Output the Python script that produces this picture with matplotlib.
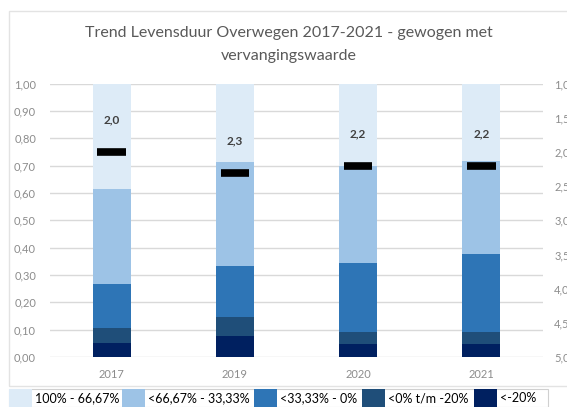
import matplotlib
matplotlib.use("Agg")
import matplotlib.pyplot as plt
from matplotlib.patches import Rectangle
import numpy as np

plt.rcParams['font.family'] = ['Lato', 'DejaVu Sans']

years = ["2017", "2019", "2020", "2021"]
series_labels = ["100% - 66,67%", "<66,67% - 33,33%", "<33,33% - 0%", "<0% t/m -20%", "<-20%"]
# bottom-up order values
navy = [0.050, 0.078, 0.048, 0.048]      # <-20%
dark = [0.055, 0.069, 0.043, 0.043]      # <0% t/m -20%
blue = [0.161, 0.186, 0.254, 0.285]      # <33,33% - 0%
mid = [0.350, 0.379, 0.354, 0.341]       # <66,67% - 33,33%
light = [0.384, 0.288, 0.301, 0.283]     # 100% - 66,67%
avg_life = [2.0, 2.3, 2.2, 2.2]
left_ticks = [0.0, 0.1, 0.2, 0.3, 0.4, 0.5, 0.6, 0.7, 0.8, 0.9, 1.0]
right_ticks = [1.0, 1.5, 2.0, 2.5, 3.0, 3.5, 4.0, 4.5, 5.0]

colors = {"light": "#DDEBF7", "mid": "#9DC3E6", "blue": "#2E75B6",
          "dark": "#1F4E79", "navy": "#002060"}

W, H = 567, 407
fig = plt.figure(figsize=(W / 100, H / 100), dpi=100)
fig.patch.set_facecolor("white")

# chart border
fig.patches.append(Rectangle((9 / W, 1 - 386 / H), 1.2, (386 - 11) / H, transform=fig.transFigure,
                             fill=False, edgecolor="#e3e3e3", lw=1.0))

ax = fig.add_axes([50 / W, 50 / H, (543 - 50) / W, (357 - 83.7) / H])
x = np.arange(len(years))
bw = 0.31
bottom = np.zeros(len(years))
stack = [("navy", navy), ("dark", dark), ("blue", blue), ("mid", mid), ("light", light)]
for key, vals in stack:
    ax.bar(x, vals, bw, bottom=bottom, color=colors[key], zorder=2)
    bottom += np.array(vals)

ax.set_xlim(-0.5, len(years) - 0.5)
ax.set_ylim(0, 1.0)
ax.set_yticks(left_ticks)
ax.set_yticklabels([f"{t:.2f}".replace(".", ",") for t in left_ticks])
ax.set_xticks(x)
ax.set_xticklabels(years)
ax.tick_params(axis="both", length=0, colors="#8c8c8c", labelsize=8)
ax.tick_params(axis="y", pad=10)
ax.tick_params(axis="x", pad=9)
ax.grid(axis="y", color="#d9d9d9", lw=1.0, zorder=0)
for s in ax.spines.values():
    s.set_visible(False)

ax2 = ax.twinx()
ax2.set_ylim(5.0, 1.0)
ax2.set_yticks(right_ticks)
ax2.set_yticklabels([f"{t:.1f}".replace(".", ",") for t in right_ticks])
ax2.tick_params(axis="y", length=0, colors="#8c8c8c", labelsize=8, pad=8)
for s in ax2.spines.values():
    s.set_visible(False)
ax2.hlines(avg_life, x - 0.115, x + 0.115, colors="black", lw=5.5, zorder=5)
for xi, v in zip(x, avg_life):
    ax2.annotate(f"{v:.1f}".replace(".", ","), (xi, v), xytext=(0, 19), textcoords="offset points",
                 ha="center", va="bottom", fontsize=8.5, fontweight="bold", color="#404040")

fig.text(289 / W, 1 - 33 / H, "Trend Levensduur Overwegen 2017-2021 - gewogen met",
         ha="center", va="center", fontsize=11.5, color="#595959")
fig.text(289 / W, 1 - 56 / H, "vervangingswaarde",
         ha="center", va="center", fontsize=11.5, color="#595959")

# legend row
fig.patches.append(Rectangle((9 / W, 0), (548 - 9) / W, (H - 389) / H, transform=fig.transFigure,
                             facecolor="white", edgecolor="#d0d0d0", lw=0.8))
patch_x = [9, 122, 254, 362, 474]
legend_keys = ["light", "mid", "blue", "dark", "navy"]
for px, key, lab in zip(patch_x, legend_keys, series_labels):
    fig.patches.append(Rectangle((px / W, 0), 23 / W, (H - 389) / H, transform=fig.transFigure,
                                 facecolor=colors[key], edgecolor="none"))
    fig.text((px + 26) / W, 1 - 398.5 / H, lab, ha="left", va="center", fontsize=9, color="black")

fig.savefig("out.png", dpi=100)
